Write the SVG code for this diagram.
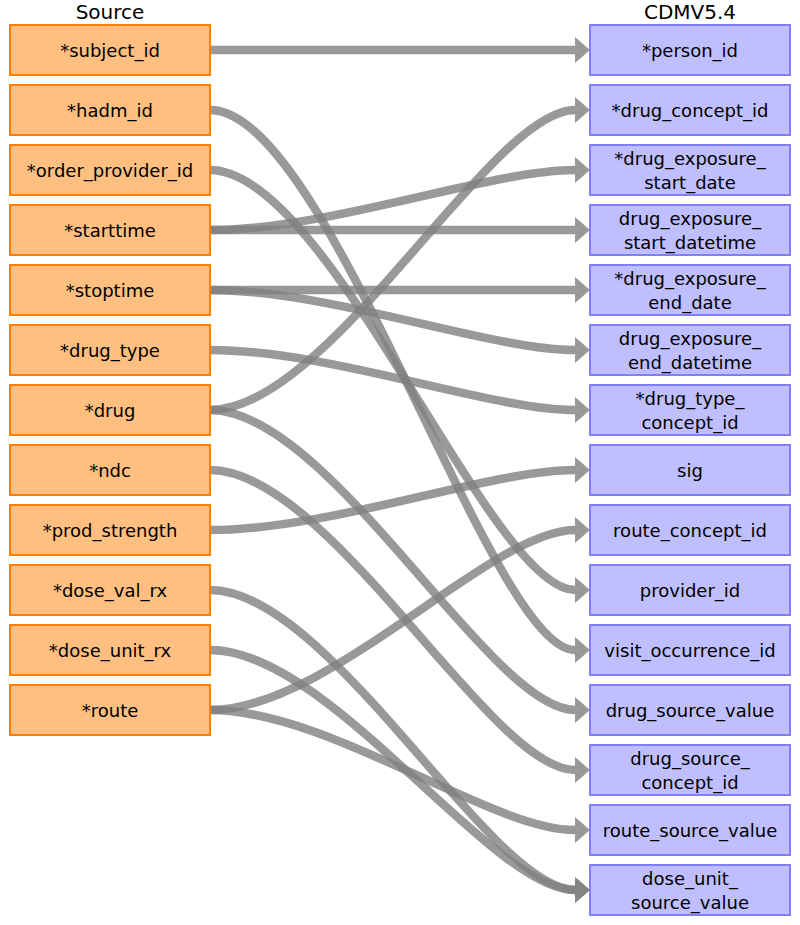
<svg xmlns="http://www.w3.org/2000/svg" width="800" height="925" viewBox="0 0 800 925">
<style>
text{font-family:"DejaVu Sans","Liberation Sans",sans-serif;font-size:18px;fill:#000;text-anchor:middle}
.h{font-size:20px}
.s rect{fill:#FFBF80;stroke:#FF8000;stroke-width:2}
.t rect{fill:#BFBFFF;stroke:#8080FF;stroke-width:2}
#links path{fill:none;stroke:#808080;stroke-opacity:0.8;stroke-width:8.5;marker-end:url(#ah)}
</style>
<defs>
<marker id="ah" markerUnits="userSpaceOnUse" markerWidth="15" markerHeight="26" viewBox="0 0 15 26" refX="0" refY="13" orient="auto">
<path d="M0,0L15,13L0,26Z" fill="#808080" fill-opacity="0.8"/>
</marker>
</defs>
<rect width="800" height="925" fill="#fff"/>
<text class="h" x="110" y="19">Source</text>
<text class="h" x="690" y="19">CDMV5.4</text>
<g id="links">
<path d="M210,50C330,50 490,50 575,50"/>
<path d="M210,110C330,110 490,650 575,650"/>
<path d="M210,170C330,170 490,590 575,590"/>
<path d="M210,230C330,230 490,170 575,170"/>
<path d="M210,230C330,230 490,230 575,230"/>
<path d="M210,290C330,290 490,290 575,290"/>
<path d="M210,290C330,290 490,350 575,350"/>
<path d="M210,350C330,350 490,410 575,410"/>
<path d="M210,410C330,410 490,110 575,110"/>
<path d="M210,410C330,410 490,710 575,710"/>
<path d="M210,470C330,470 490,770 575,770"/>
<path d="M210,530C330,530 490,470 575,470"/>
<path d="M210,590C330,590 490,890 575,890"/>
<path d="M210,650C330,650 490,890 575,890"/>
<path d="M210,710C330,710 490,530 575,530"/>
<path d="M210,710C330,710 490,830 575,830"/>
</g>
<g id="s_subject_id" class="s"><rect x="10" y="25" width="200" height="50"/><text x="110" y="57">*subject_id</text></g>
<g id="s_hadm_id" class="s"><rect x="10" y="85" width="200" height="50"/><text x="110" y="117">*hadm_id</text></g>
<g id="s_order_provider_id" class="s"><rect x="10" y="145" width="200" height="50"/><text x="110" y="177">*order_provider_id</text></g>
<g id="s_starttime" class="s"><rect x="10" y="205" width="200" height="50"/><text x="110" y="237">*starttime</text></g>
<g id="s_stoptime" class="s"><rect x="10" y="265" width="200" height="50"/><text x="110" y="297">*stoptime</text></g>
<g id="s_drug_type" class="s"><rect x="10" y="325" width="200" height="50"/><text x="110" y="357">*drug_type</text></g>
<g id="s_drug" class="s"><rect x="10" y="385" width="200" height="50"/><text x="110" y="417">*drug</text></g>
<g id="s_ndc" class="s"><rect x="10" y="445" width="200" height="50"/><text x="110" y="477">*ndc</text></g>
<g id="s_prod_strength" class="s"><rect x="10" y="505" width="200" height="50"/><text x="110" y="537">*prod_strength</text></g>
<g id="s_dose_val_rx" class="s"><rect x="10" y="565" width="200" height="50"/><text x="110" y="597">*dose_val_rx</text></g>
<g id="s_dose_unit_rx" class="s"><rect x="10" y="625" width="200" height="50"/><text x="110" y="657">*dose_unit_rx</text></g>
<g id="s_route" class="s"><rect x="10" y="685" width="200" height="50"/><text x="110" y="717">*route</text></g>
<g id="t_person_id" class="t"><rect x="590" y="25" width="200" height="50"/><text x="690" y="57">*person_id</text></g>
<g id="t_drug_concept_id" class="t"><rect x="590" y="85" width="200" height="50"/><text x="690" y="117">*drug_concept_id</text></g>
<g id="t_drug_exposure_start_date" class="t"><rect x="590" y="145" width="200" height="50"/><text x="690" y="165">*drug_exposure_</text><text x="690" y="189">start_date</text></g>
<g id="t_drug_exposure_start_datetime" class="t"><rect x="590" y="205" width="200" height="50"/><text x="690" y="225">drug_exposure_</text><text x="690" y="249">start_datetime</text></g>
<g id="t_drug_exposure_end_date" class="t"><rect x="590" y="265" width="200" height="50"/><text x="690" y="285">*drug_exposure_</text><text x="690" y="309">end_date</text></g>
<g id="t_drug_exposure_end_datetime" class="t"><rect x="590" y="325" width="200" height="50"/><text x="690" y="345">drug_exposure_</text><text x="690" y="369">end_datetime</text></g>
<g id="t_drug_type_concept_id" class="t"><rect x="590" y="385" width="200" height="50"/><text x="690" y="405">*drug_type_</text><text x="690" y="429">concept_id</text></g>
<g id="t_sig" class="t"><rect x="590" y="445" width="200" height="50"/><text x="690" y="477">sig</text></g>
<g id="t_route_concept_id" class="t"><rect x="590" y="505" width="200" height="50"/><text x="690" y="537">route_concept_id</text></g>
<g id="t_provider_id" class="t"><rect x="590" y="565" width="200" height="50"/><text x="690" y="597">provider_id</text></g>
<g id="t_visit_occurrence_id" class="t"><rect x="590" y="625" width="200" height="50"/><text x="690" y="657">visit_occurrence_id</text></g>
<g id="t_drug_source_value" class="t"><rect x="590" y="685" width="200" height="50"/><text x="690" y="717">drug_source_value</text></g>
<g id="t_drug_source_concept_id" class="t"><rect x="590" y="745" width="200" height="50"/><text x="690" y="765">drug_source_</text><text x="690" y="789">concept_id</text></g>
<g id="t_route_source_value" class="t"><rect x="590" y="805" width="200" height="50"/><text x="690" y="837">route_source_value</text></g>
<g id="t_dose_unit_source_value" class="t"><rect x="590" y="865" width="200" height="50"/><text x="690" y="885">dose_unit_</text><text x="690" y="909">source_value</text></g>
</svg>
